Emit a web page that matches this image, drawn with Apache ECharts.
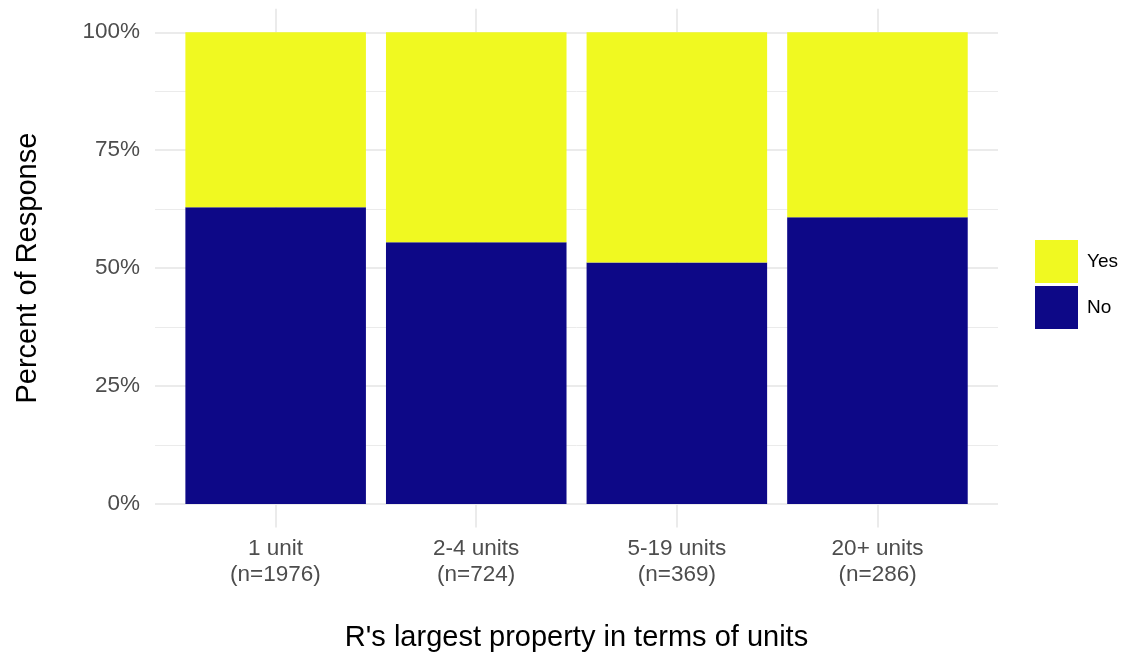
<!DOCTYPE html>
<html>
<head>
<meta charset="utf-8">
<script src="https://cdn.jsdelivr.net/npm/echarts@6/dist/echarts.min.js"></script>
<style>
html,body{margin:0;padding:0;background:#fff;}
#chart{width:1125px;height:654px;}
</style>
</head>
<body>
<div id="chart"></div>
<script>
const categories = ['1 unit\n(n=1976)', '2-4 units\n(n=724)', '5-19 units\n(n=369)', '20+ units\n(n=286)'];
const categoryPositions = [1, 2, 3, 4];
const noPct = [62.9, 55.5, 51.2, 60.8];
const yesPct = [37.1, 44.5, 48.8, 39.2];
const yMajorTicks = [0, 25, 50, 75, 100];
const yMinorTicks = [12.5, 37.5, 62.5, 87.5];

const FONT = '"Liberation Sans", Arial, sans-serif';
const GRID = '#EBEBEB';

const chart = echarts.init(document.getElementById('chart'), null, {renderer: 'canvas'});
chart.setOption({
  backgroundColor: '#ffffff',
  animation: false,
  textStyle: {fontFamily: FONT},
  grid: [
    {left: 155, right: 127, top: 8.7, bottom: 126.4, containLabel: false, outerBoundsMode: 'none'},
    {left: 175.35, right: 147.25, top: 8.7, bottom: 126.4, containLabel: false, outerBoundsMode: 'none'}
  ],
  legend: {
    orient: 'vertical', left: 1030, top: 235,
    itemWidth: 43, itemHeight: 43, itemGap: 3,
    data: ['Yes', 'No'],
    icon: 'rect',
    textStyle: {fontFamily: FONT, fontSize: 19, color: '#000', padding: [0, 0, 0, 4]}
  },
  xAxis: [{
    gridIndex: 0,
    type: 'value', min: 0.4, max: 4.6,
    name: "R's largest property in terms of units",
    nameLocation: 'middle', nameGap: 96,
    nameTextStyle: {fontFamily: FONT, fontSize: 29, color: '#000'},
    axisLine: {show: false},
    axisTick: {show: false, customValues: categoryPositions},
    axisLabel: {
      customValues: categoryPositions,
      formatter: v => categories[categoryPositions.indexOf(Math.round(v))] || '',
      fontFamily: FONT, fontSize: 22.5, color: '#4D4D4D', lineHeight: 26, margin: 8
    },
    splitLine: {show: true, lineStyle: {color: GRID, width: 2}}
  }, {
    gridIndex: 1,
    type: 'category', data: categories, boundaryGap: true,
    show: false
  }],
  yAxis: [{
    gridIndex: 0,
    type: 'value', min: -5, max: 105,
    name: 'Percent of Response',
    nameLocation: 'middle', nameGap: 113,
    nameTextStyle: {fontFamily: FONT, fontSize: 29, color: '#000'},
    axisLine: {show: false},
    axisTick: {show: false, customValues: yMajorTicks},
    axisLabel: {
      customValues: yMajorTicks,
      formatter: v => Math.round(v) + '%',
      fontFamily: FONT, fontSize: 22.5, color: '#4D4D4D', margin: 15
    },
    splitLine: {show: true, lineStyle: {color: GRID, width: 2}}
  }, {
    gridIndex: 0,
    type: 'value', min: -5, max: 105, position: 'left',
    axisLine: {show: false},
    axisTick: {show: false, customValues: yMinorTicks},
    axisLabel: {show: false, customValues: yMinorTicks},
    splitLine: {show: true, lineStyle: {color: GRID, width: 1}}
  }, {
    gridIndex: 1,
    type: 'value', min: -5, max: 105,
    show: false, splitLine: {show: false}
  }],
  series: [{
    name: 'No', type: 'bar', stack: 'total', barWidth: '90%',
    xAxisIndex: 1, yAxisIndex: 2,
    itemStyle: {color: '#0D0887'},
    data: noPct,
    z: 3
  }, {
    name: 'Yes', type: 'bar', stack: 'total', barWidth: '90%',
    xAxisIndex: 1, yAxisIndex: 2,
    itemStyle: {color: '#F0F921'},
    data: yesPct,
    z: 3
  }]
});
</script>
</body>
</html>
